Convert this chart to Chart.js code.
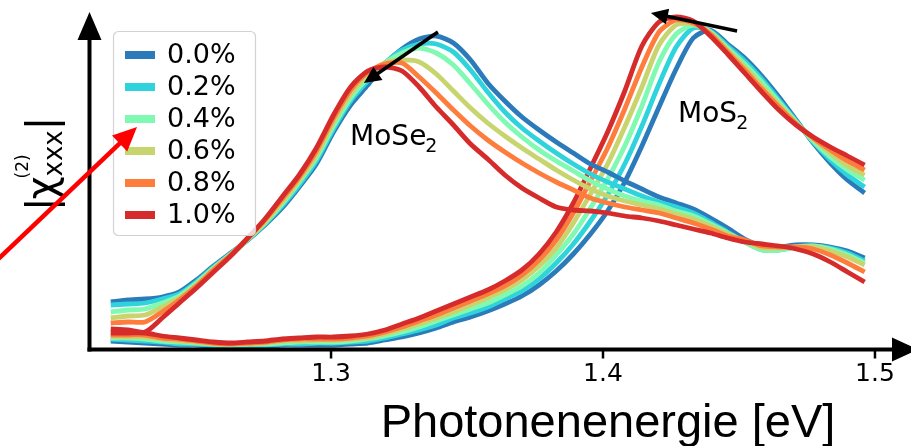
<!DOCTYPE html>
<html>
<head>
<meta charset="utf-8">
<script src="https://cdn.jsdelivr.net/npm/chart.js@4/dist/chart.umd.min.js"></script>
<style>
  html, body { margin: 0; padding: 0; background: #ffffff; }
  #wrap { width: 911px; height: 446px; position: relative; }
  canvas { display: block; }
</style>
</head>
<body>
<div id="wrap"><canvas id="chart" width="911" height="446"></canvas></div>
<script>
// Photon energy grid (eV)
const energies = [1.2190,1.2253,1.2316,1.2379,1.2442,1.2505,1.2568,1.2631,1.2694,1.2757,1.2820,1.2883,1.2946,1.3009,1.3072,1.3135,1.3198,1.3261,1.3324,1.3387,1.3450,1.3513,1.3576,1.3639,1.3702,1.3765,1.3828,1.3891,1.3954,1.4017,1.4080,1.4143,1.4206,1.4269,1.4332,1.4395,1.4458,1.4521,1.4584,1.4647,1.4710,1.4773,1.4836,1.4899,1.4962];

const strainLabels = ['0.0%', '0.2%', '0.4%', '0.6%', '0.8%', '1.0%'];
const strainColors = ['#2b7bba', '#2fd3dc', '#80f9b2', '#c8d46e', '#fe7c3c', '#d52b2b'];

// |chi(2)_xxx| of MoSe2 (arb. units) for each strain
const mose2_s00 = [0.48,0.50,0.51,0.53,0.58,0.70,0.84,0.97,1.10,1.25,1.42,1.63,1.86,2.18,2.45,2.65,2.86,3.01,3.11,3.14,3.07,2.90,2.67,2.49,2.33,2.20,2.08,1.97,1.86,1.78,1.69,1.61,1.53,1.47,1.41,1.32,1.22,1.11,1.04,1.03,1.05,1.05,1.03,0.99,0.92];
const mose2_s02 = [0.45,0.46,0.47,0.51,0.56,0.68,0.83,0.96,1.10,1.26,1.44,1.65,1.89,2.21,2.49,2.69,2.87,3.00,3.06,3.06,2.98,2.80,2.58,2.38,2.22,2.09,1.97,1.86,1.76,1.68,1.61,1.54,1.48,1.43,1.37,1.28,1.18,1.08,1.00,1.00,1.03,1.04,1.02,0.97,0.89];
const mose2_s04 = [0.38,0.40,0.41,0.47,0.54,0.67,0.82,0.96,1.11,1.27,1.46,1.68,1.92,2.24,2.52,2.72,2.87,2.97,3.02,2.97,2.85,2.66,2.46,2.28,2.13,2.00,1.89,1.79,1.69,1.61,1.54,1.49,1.45,1.39,1.34,1.26,1.17,1.08,1.00,1.00,1.03,1.04,1.01,0.95,0.87];
const mose2_s06 = [0.32,0.34,0.35,0.43,0.52,0.65,0.81,0.95,1.11,1.28,1.48,1.70,1.95,2.28,2.56,2.75,2.87,2.90,2.88,2.76,2.59,2.42,2.27,2.14,2.02,1.91,1.80,1.70,1.61,1.54,1.49,1.45,1.41,1.36,1.31,1.24,1.16,1.09,1.02,1.02,1.03,1.03,0.99,0.93,0.85];
const mose2_s08 = [0.27,0.28,0.28,0.38,0.50,0.64,0.80,0.95,1.12,1.30,1.51,1.73,1.99,2.32,2.60,2.78,2.86,2.87,2.73,2.57,2.40,2.24,2.10,1.98,1.87,1.77,1.68,1.60,1.52,1.47,1.43,1.40,1.37,1.32,1.27,1.21,1.14,1.10,1.04,1.03,1.03,1.01,0.95,0.87,0.78];
const mose2_s10 = [0.21,0.20,0.18,0.32,0.47,0.62,0.78,0.94,1.12,1.31,1.53,1.75,2.02,2.35,2.63,2.79,2.83,2.79,2.63,2.43,2.25,2.06,1.91,1.75,1.62,1.52,1.43,1.40,1.39,1.37,1.34,1.32,1.29,1.25,1.21,1.17,1.12,1.08,1.06,1.04,1.01,0.96,0.88,0.78,0.68];

// |chi(2)_xxx| of MoS2 (arb. units) for each strain
const mos2_s00 = [0.09,0.08,0.07,0.06,0.05,0.05,0.04,0.04,0.04,0.04,0.05,0.05,0.05,0.05,0.06,0.07,0.10,0.13,0.17,0.22,0.28,0.33,0.39,0.46,0.54,0.65,0.79,0.96,1.16,1.39,1.68,2.04,2.43,2.81,3.12,3.20,3.06,2.92,2.74,2.53,2.30,2.07,1.87,1.70,1.57];
const mos2_s02 = [0.11,0.10,0.09,0.08,0.06,0.06,0.05,0.05,0.05,0.05,0.06,0.06,0.07,0.07,0.08,0.09,0.12,0.16,0.20,0.25,0.32,0.37,0.43,0.51,0.59,0.71,0.87,1.06,1.29,1.55,1.86,2.24,2.66,3.03,3.22,3.19,3.04,2.89,2.71,2.50,2.29,2.08,1.90,1.75,1.63];
const mos2_s04 = [0.12,0.12,0.11,0.09,0.08,0.07,0.06,0.05,0.06,0.06,0.07,0.08,0.08,0.08,0.09,0.11,0.14,0.18,0.23,0.29,0.35,0.41,0.47,0.55,0.64,0.77,0.95,1.16,1.42,1.71,2.04,2.44,2.88,3.16,3.25,3.18,3.02,2.86,2.68,2.48,2.28,2.09,1.93,1.80,1.70];
const mos2_s06 = [0.14,0.13,0.13,0.11,0.09,0.08,0.06,0.06,0.06,0.07,0.09,0.09,0.10,0.10,0.11,0.12,0.16,0.21,0.26,0.32,0.38,0.45,0.52,0.60,0.70,0.84,1.02,1.27,1.56,1.86,2.23,2.63,3.05,3.25,3.26,3.17,3.00,2.83,2.64,2.45,2.27,2.11,1.97,1.84,1.75];
const mos2_s08 = [0.15,0.15,0.15,0.12,0.11,0.09,0.07,0.06,0.07,0.08,0.10,0.11,0.11,0.11,0.12,0.14,0.18,0.23,0.29,0.35,0.42,0.49,0.56,0.64,0.75,0.90,1.10,1.37,1.69,2.02,2.41,2.83,3.18,3.30,3.27,3.16,2.98,2.80,2.61,2.43,2.26,2.12,2.00,1.89,1.80];
const mos2_s10 = [0.17,0.17,0.17,0.14,0.12,0.10,0.08,0.07,0.08,0.09,0.11,0.12,0.13,0.13,0.14,0.16,0.20,0.26,0.32,0.39,0.46,0.53,0.60,0.69,0.80,0.96,1.18,1.47,1.82,2.18,2.59,3.04,3.28,3.33,3.29,3.14,2.96,2.77,2.58,2.40,2.25,2.13,2.03,1.94,1.85];

const xTicks = [1.3, 1.4, 1.5];

const mose2Series = [mose2_s00, mose2_s02, mose2_s04, mose2_s06, mose2_s08, mose2_s10];
const mos2Series  = [mos2_s00, mos2_s02, mos2_s04, mos2_s06, mos2_s08, mos2_s10];

function toPoints(values) {
  return energies.map((e, i) => ({ x: e, y: values[i] }));
}

function lineDataset(values, k, material) {
  return {
    label: material + ' ' + strainLabels[k],
    data: toPoints(values),
    borderColor: strainColors[k],
    backgroundColor: strainColors[k],
    borderWidth: 4.8,
    pointRadius: 0,
    tension: 0.25,
    borderJoinStyle: 'round',
    borderCapStyle: 'butt',
    fill: false,
    clip: false
  };
}

// Chart.js paints dataset 0 last, so the list runs from the top layer down:
// MoSe2 above MoS2, higher strain above lower strain.
const datasets = [];
for (let k = 5; k >= 0; k--) datasets.push(lineDataset(mose2Series[k], k, 'MoSe2'));
for (let k = 5; k >= 0; k--) datasets.push(lineDataset(mos2Series[k], k, 'MoS2'));

function arrow(ctx, x0, y0, x1, y1, color, width, headLen, headHalf) {
  const dx = x1 - x0, dy = y1 - y0;
  const len = Math.hypot(dx, dy);
  const ux = dx / len, uy = dy / len;
  const bx = x1 - ux * headLen, by = y1 - uy * headLen;
  ctx.save();
  ctx.strokeStyle = color;
  ctx.fillStyle = color;
  ctx.lineWidth = width;
  ctx.lineCap = 'butt';
  ctx.beginPath();
  ctx.moveTo(x0, y0);
  ctx.lineTo(bx + ux * 2, by + uy * 2);
  ctx.stroke();
  ctx.beginPath();
  ctx.moveTo(x1, y1);
  ctx.lineTo(bx - uy * headHalf, by + ux * headHalf);
  ctx.lineTo(bx + uy * headHalf, by - ux * headHalf);
  ctx.closePath();
  ctx.fill();
  ctx.restore();
}

function subText(ctx, x, y, main, sub, size, subSize, drop) {
  ctx.font = size + 'px "DejaVu Sans"';
  ctx.textBaseline = 'alphabetic';
  ctx.textAlign = 'left';
  ctx.fillText(main, x, y);
  const w = ctx.measureText(main).width;
  ctx.font = subSize + 'px "DejaVu Sans"';
  ctx.fillText(sub, x + w - 1, y + drop);
}

const decorations = {
  id: 'decorations',
  afterDraw(chart) {
    const ctx = chart.ctx;
    const xs = chart.scales.x, ys = chart.scales.y;
    const area = chart.chartArea;
    const axisY = area.bottom - 0.5;
    const axisX = area.left + 0.5;

    ctx.save();
    ctx.fillStyle = '#000';
    ctx.strokeStyle = '#000';

    // axes with arrow heads
    ctx.lineWidth = 4;
    ctx.beginPath();
    ctx.moveTo(axisX, axisY + 2);
    ctx.lineTo(axisX, 36);
    ctx.stroke();
    ctx.beginPath();
    ctx.moveTo(axisX, 12);
    ctx.lineTo(axisX - 12, 40);
    ctx.lineTo(axisX + 12, 40);
    ctx.closePath();
    ctx.fill();

    ctx.beginPath();
    ctx.moveTo(axisX - 2, axisY);
    ctx.lineTo(896, axisY);
    ctx.stroke();
    ctx.beginPath();
    ctx.moveTo(918, axisY);
    ctx.lineTo(892, axisY - 12);
    ctx.lineTo(892, axisY + 12);
    ctx.closePath();
    ctx.fill();

    // ticks and tick labels
    ctx.lineWidth = 2.5;
    ctx.font = '25px "DejaVu Sans"';
    ctx.textAlign = 'center';
    ctx.textBaseline = 'top';
    xTicks.forEach(t => {
      const px = xs.getPixelForValue(t);
      ctx.beginPath();
      ctx.moveTo(px, axisY);
      ctx.lineTo(px, axisY + 9);
      ctx.stroke();
      ctx.fillText(t.toFixed(1), px, axisY + 12);
    });

    // x axis title
    ctx.font = '47px "Liberation Sans", Arial, sans-serif';
    ctx.textAlign = 'center';
    ctx.textBaseline = 'alphabetic';
    ctx.fillText('Photonenenergie [eV]', 608, 437);

    // y axis title |chi^(2)_xxx|
    ctx.save();
    ctx.translate(55, 211);
    ctx.rotate(-Math.PI / 2);
    ctx.textAlign = 'left';
    ctx.textBaseline = 'alphabetic';
    ctx.font = '40px "DejaVu Sans"';
    ctx.fillText('|', 0, 0);
    let cx = ctx.measureText('|').width - 2;
    ctx.fillText('\u03C7', cx, 0);
    cx += ctx.measureText('\u03C7').width;
    ctx.font = '17px "DejaVu Sans"';
    ctx.fillText('(2)', cx - 2, -27);
    const supW = ctx.measureText('(2)').width;
    ctx.font = '26px "DejaVu Sans"';
    ctx.fillText('xxx', cx, 7);
    const subW = ctx.measureText('xxx').width;
    cx += Math.max(supW, subW);
    ctx.font = '40px "DejaVu Sans"';
    ctx.fillText('|', cx, 0);
    ctx.restore();

    // material labels
    subText(ctx, xs.getPixelForValue(1.3070), ys.getPixelForValue(2.05), 'MoSe', '2', 28, 19, 7);
    subText(ctx, xs.getPixelForValue(1.4276), ys.getPixelForValue(2.28), 'MoS', '2', 28, 19, 7);

    // strain shift arrows
    arrow(ctx, xs.getPixelForValue(1.3393), ys.getPixelForValue(3.18),
               xs.getPixelForValue(1.3121), ys.getPixelForValue(2.67), '#000', 3.5, 17, 8);
    arrow(ctx, xs.getPixelForValue(1.4493), ys.getPixelForValue(3.19),
               xs.getPixelForValue(1.4176), ys.getPixelForValue(3.37), '#000', 3.5, 17, 8);

    // legend
    const lx = 113, ly = 31, lw = 142, lh = 204;
    ctx.save();
    ctx.beginPath();
    ctx.roundRect(lx + 0.5, ly + 0.5, lw, lh, 5);
    ctx.fillStyle = 'rgba(255,255,255,0.8)';
    ctx.fill();
    ctx.lineWidth = 1.2;
    ctx.strokeStyle = '#d2d2d2';
    ctx.stroke();
    ctx.restore();
    ctx.font = '27px "DejaVu Sans"';
    ctx.textAlign = 'left';
    ctx.textBaseline = 'middle';
    strainLabels.forEach((lab, k) => {
      const yy = ly + 24 + k * 32;
      ctx.strokeStyle = strainColors[k];
      ctx.lineWidth = 8;
      ctx.beginPath();
      ctx.moveTo(lx + 12, yy);
      ctx.lineTo(lx + 42, yy);
      ctx.stroke();
      ctx.fillStyle = '#000';
      ctx.fillText(lab, lx + 54, yy + 1);
    });

    // red pointer towards the 0.4% entry
    arrow(ctx, -6, 263, lx + 24, ly + 96, '#ff0000', 4.5, 24, 11);

    ctx.restore();
  }
};

new Chart(document.getElementById('chart'), {
  type: 'line',
  data: { datasets },
  options: {
    responsive: false,
    animation: false,
    devicePixelRatio: 1,
    layout: { padding: { left: 89, right: 17, top: 14, bottom: 96 } },
    plugins: { legend: { display: false }, tooltip: { enabled: false } },
    scales: {
      x: { type: 'linear', min: 1.211, max: 1.507, display: false },
      y: { type: 'linear', min: 0, max: 3.36, display: false }
    }
  },
  plugins: [decorations]
});
</script>
</body>
</html>
